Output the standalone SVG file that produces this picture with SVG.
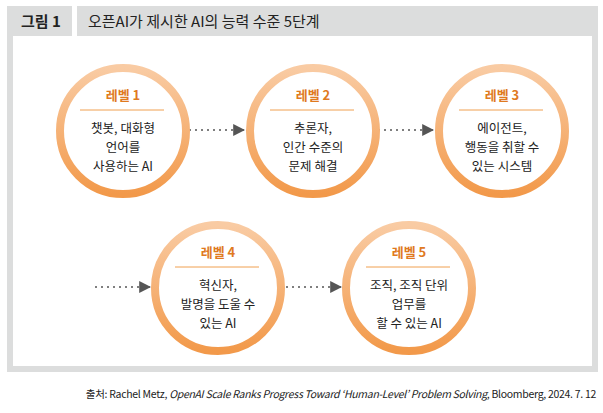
<svg xmlns="http://www.w3.org/2000/svg" width="603" height="413" viewBox="0 0 603 413">
<defs>
<linearGradient id="rg" x1="0" y1="0" x2="0" y2="1"><stop offset="0" stop-color="#f9cba3"/><stop offset="1" stop-color="#f2994a"/></linearGradient>
<marker id="ah" viewBox="0 0 10 10" refX="9" refY="5" markerWidth="12" markerHeight="12" markerUnits="userSpaceOnUse" orient="auto"><path d="M0,0 L10,5 L0,10 z" fill="#555"/></marker>
<style>
text{font-family:"Noto Sans CJK KR","Noto Sans",sans-serif;fill:#222}
.ring{fill:#fff;stroke:url(#rg);stroke-width:8}
.lv{font-size:13px;font-weight:bold;fill:#e07a1f;text-anchor:middle}
.t{font-size:12.5px;text-anchor:middle}
.sep{stroke:#f0a050;stroke-width:1}
.ar{stroke:#555;stroke-width:1.6;stroke-dasharray:2 4;fill:none}
</style>
</defs>
<rect x="7" y="6" width="591" height="366" fill="#dcdddd"/>
<rect x="13" y="36" width="579" height="330" fill="#fff"/>
<rect x="72" y="6" width="5" height="30" fill="#fff"/>
<text x="21" y="27" style="font-size:15px;font-weight:bold">그림 1</text>
<text x="88" y="27" style="font-size:15px">오픈AI가 제시한 AI의 능력 수준 5단계</text>
<g id="connectors">
<path class="ar" d="M189,130 H244" marker-end="url(#ah)"/>
<path class="ar" d="M378,130 H433" marker-end="url(#ah)"/>
<path class="ar" d="M95,287 H150" marker-end="url(#ah)"/>
<path class="ar" d="M286,287 H341" marker-end="url(#ah)"/>
</g>
<g id="n1"><circle class="ring" cx="123" cy="131" r="63"/><text class="lv" x="123" y="100">레벨 1</text><line class="sep" x1="80" y1="110" x2="164" y2="110"/><text class="t" x="123" y="133">챗봇, 대화형</text><text class="t" x="123" y="152">언어를</text><text class="t" x="123" y="171">사용하는 AI</text></g>
<g id="n2"><circle class="ring" cx="313" cy="131" r="63"/><text class="lv" x="313" y="100">레벨 2</text><line class="sep" x1="270" y1="110" x2="354" y2="110"/><text class="t" x="313" y="133">추론자,</text><text class="t" x="313" y="152">인간 수준의</text><text class="t" x="313" y="171">문제 해결</text></g>
<g id="n3"><circle class="ring" cx="502" cy="131" r="63"/><text class="lv" x="502" y="100">레벨 3</text><line class="sep" x1="459" y1="110" x2="543" y2="110"/><text class="t" x="502" y="133">에이전트,</text><text class="t" x="502" y="152">행동을 취할 수</text><text class="t" x="502" y="171">있는 시스템</text></g>
<g id="n4"><circle class="ring" cx="218" cy="288" r="63"/><text class="lv" x="218" y="257">레벨 4</text><line class="sep" x1="175" y1="267" x2="259" y2="267"/><text class="t" x="218" y="290">혁신자,</text><text class="t" x="218" y="309">발명을 도울 수</text><text class="t" x="218" y="328">있는 AI</text></g>
<g id="n5"><circle class="ring" cx="409" cy="288" r="63"/><text class="lv" x="409" y="257">레벨 5</text><line class="sep" x1="366" y1="267" x2="450" y2="267"/><text class="t" x="409" y="290">조직, 조직 단위</text><text class="t" x="409" y="309">업무를</text><text class="t" x="409" y="328">할 수 있는 AI</text></g>
<text x="596" y="398" style="font-size:10.5px;text-anchor:end;letter-spacing:-0.3px">출처: Rachel Metz, <tspan font-style="italic">OpenAI Scale Ranks Progress Toward ‘Human-Level’ Problem Solving</tspan>, Bloomberg, 2024. 7. 12</text>
</svg>
